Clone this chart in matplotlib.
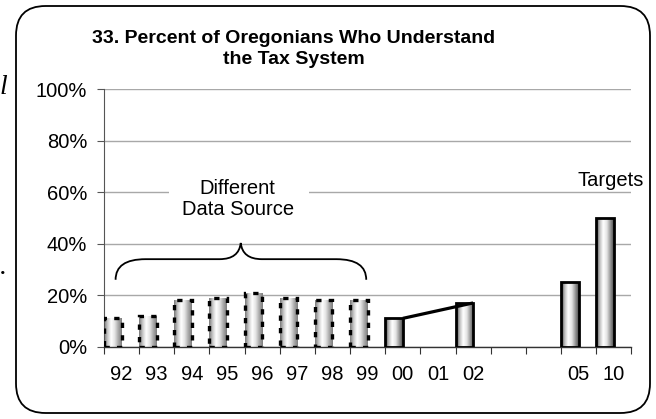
import numpy as np
import matplotlib
matplotlib.use('Agg')
import matplotlib.pyplot as plt
from matplotlib.colors import LinearSegmentedColormap
from matplotlib.patches import FancyBboxPatch, Rectangle, PathPatch
from matplotlib.path import Path

plt.rcParams['font.family'] = ['Liberation Sans', 'DejaVu Sans']
plt.rcParams['lines.scale_dashes'] = False

# data
labels = ['92', '93', '94', '95', '96', '97', '98', '99', '00', '01', '02', '', '', '05', '10']
old_idx = [0, 1, 2, 3, 4, 5, 6, 7]
old_vals = [11, 12, 18, 19, 21, 19, 18, 18]      # different data source
new_idx = [8, 10]
new_vals = [11, 17]
target_idx = [13, 14]
target_vals = [25, 50]
trend_idx = [8, 10]
trend_vals = [11, 17]

fig = plt.figure(figsize=(6.56, 4.19), dpi=100)
ax = fig.add_axes([0.1585, 0.1726, 0.8039, 0.6143])

solid_cmap = LinearSegmentedColormap.from_list(
    'cyl', ['#3c3c3c', '#bdbdbd', '#ffffff', '#e6e6e6', '#9a9a9a', '#4c4c4c'])
dash_cmap = LinearSegmentedColormap.from_list(
    'cyl2', ['#7a7a7a', '#c8c8c8', '#ffffff', '#e4e4e4', '#aaaaaa', '#7e7e7e'])
grad = np.linspace(0, 1, 64).reshape(1, -1)

def shaded(bars, cmap):
    for b in bars:
        x0, y0 = b.get_x(), b.get_y()
        im = ax.imshow(grad, extent=[x0, x0 + b.get_width(), y0, y0 + b.get_height()],
                       aspect='auto', cmap=cmap, zorder=2.5, interpolation='bilinear')
        im.set_clip_path(b)

w = 0.5
b_old = ax.bar(np.array(old_idx) - 0.25, old_vals, w, facecolor='none', edgecolor='black',
               linewidth=2.4, linestyle=(0, (3.8, 5.2)), zorder=3)
b_new = ax.bar(np.array(new_idx) - 0.25, new_vals, w, facecolor='none', edgecolor='black',
               linewidth=2.0, zorder=3)
b_tgt = ax.bar(np.array(target_idx) - 0.25, target_vals, w, facecolor='none', edgecolor='black',
               linewidth=2.0, zorder=3)
shaded(b_old, dash_cmap)
shaded(b_new, solid_cmap)
shaded(b_tgt, solid_cmap)

ax.plot(trend_idx, trend_vals, color='black', lw=2.3, zorder=4, solid_capstyle='butt')

ax.set_xlim(-0.5, len(labels) - 0.5)
ax.set_ylim(0, 100)

# y axis
ax.set_yticks(range(0, 101, 20))
ax.set_yticklabels([f'{v}%' for v in range(0, 101, 20)])
ax.yaxis.grid(True, color='#a8a8a8', lw=1.0, zorder=0)
ax.set_axisbelow(True)
ax.tick_params(axis='y', direction='out', length=5, width=0.8, color='#555555',
               labelsize=14.5, pad=7)

# x axis: ticks on category boundaries, labels at centers
ax.set_xticks(np.arange(-0.5, len(labels)), minor=False)
ax.set_xticklabels([])
ax.set_xticks(np.arange(len(labels)), minor=True)
ax.set_xticklabels(labels, minor=True)
ax.tick_params(axis='x', which='major', direction='out', length=5, width=0.8, color='#333333')
ax.tick_params(axis='x', which='minor', length=0, labelsize=14.5, pad=13)

for s in ['top', 'right']:
    ax.spines[s].set_visible(False)
ax.spines['left'].set_color('#555555')
ax.spines['left'].set_linewidth(0.8)
ax.spines['bottom'].set_color('#333333')
ax.spines['bottom'].set_linewidth(1.0)

# white box breaking the 60% gridline behind the annotation
ax.add_patch(Rectangle((1.34, 45), 3.98, 22, facecolor='white', edgecolor='none', zorder=1.5))
ax.text(3.3, 57.5, 'Different\nData Source', ha='center', va='center', fontsize=14.5,
        linespacing=1.15, zorder=5)
ax.text(13.9, 64.5, 'Targets', ha='center', va='center', fontsize=14.5, zorder=5)

# curly brace over the old series
L, R, M = -0.17, 6.96, 3.39
yb, yf, yt = 26, 34, 40.3
verts = [(L, yb), (L, yf), (L + 0.85, yf),
         (M - 0.6, yf),
         (M - 0.05, yf), (M, yt),
         (M + 0.05, yf), (M + 0.6, yf),
         (R - 0.85, yf),
         (R, yf), (R, yb)]
codes = [Path.MOVETO, Path.CURVE3, Path.CURVE3,
         Path.LINETO,
         Path.CURVE3, Path.CURVE3,
         Path.CURVE3, Path.CURVE3,
         Path.LINETO,
         Path.CURVE3, Path.CURVE3]
ax.add_patch(PathPatch(Path(verts, codes), facecolor='none', edgecolor='black', lw=1.3,
                       zorder=5, clip_on=False))

fig.text(0.448, 0.883, '33. Percent of Oregonians Who Understand\nthe Tax System',
         ha='center', va='center', fontsize=14, fontweight='bold', linespacing=1.32)

# rounded frame around the chart
fig.patches.append(FancyBboxPatch((16 / 656, 6 / 419), 634 / 656, 407 / 419,
                                  boxstyle='round,pad=0,rounding_size=0.045',
                                  transform=fig.transFigure, facecolor='none',
                                  edgecolor='black', lw=1.3, mutation_aspect=656 / 419))

# clipped text from neighbouring page
fig.text(0.0, 1 - 87 / 419, 'l', fontsize=20, family='Liberation Serif', style='italic',
         ha='left', va='center')
fig.text(0.0, 1 - 268 / 419, '.', fontsize=20, family='Liberation Serif', style='italic',
         ha='left', va='center')

fig.savefig('out.png', dpi=100)
